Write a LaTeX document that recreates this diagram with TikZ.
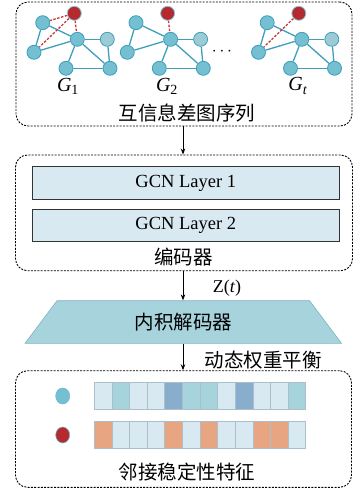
\documentclass[tikz,border=0pt]{standalone}
\usepackage{fontspec}
\setmainfont{Liberation Serif}
\newfontfamily\cjk{Noto Sans CJK SC}
\usetikzlibrary{shapes.geometric,arrows.meta,backgrounds}
\definecolor{nodeblue}{HTML}{74BFD2}
\definecolor{nodeedge}{HTML}{3D9FB8}
\definecolor{nodelight}{HTML}{9CCBD6}
\definecolor{nodered}{HTML}{B52A2E}
\definecolor{edgeblue}{HTML}{3F9FB9}
\definecolor{dashred}{HTML}{C8393A}
\definecolor{layerfill}{HTML}{D9E9F2}
\definecolor{trapfill}{HTML}{A7D3DD}
\definecolor{trapedge}{HTML}{7FB3C2}
\definecolor{cL}{HTML}{D9E9F1}
\definecolor{cM}{HTML}{A6D3DC}
\definecolor{cD}{HTML}{88ADCD}
\definecolor{cO}{HTML}{E8A582}
\definecolor{cellborder}{HTML}{A9BFCC}
\begin{document}
\begin{tikzpicture}[x=1pt,y=-1pt,
  gnode/.style={circle, minimum size=14pt, inner sep=0pt, fill=nodeblue, draw=nodeedge, line width=0.8pt},
  lnode/.style={gnode, fill=nodelight},
  rnode/.style={gnode, fill=nodered, draw=nodeedge!60!white},
  gedge/.style={draw=edgeblue, line width=1.3pt},
  redge/.style={draw=dashred, line width=1.3pt, dash pattern=on 2.5pt off 1.5pt},
  dbox/.style={draw, rounded corners=12pt, line width=0.9pt, dash pattern=on 2pt off 1.3pt, inner sep=0pt},
  layerbox/.style={draw=black!80, fill=layerfill, line width=0.8pt, minimum width=307pt, minimum height=32.5pt, inner sep=0pt, font=\fontsize{18.5}{20}\selectfont},
  cell/.style={draw=cellborder, line width=0.6pt, minimum width=17.62pt, minimum height=26.6pt, inner sep=0pt},
  arr/.style={-{Stealth[length=6pt,width=4.5pt]}, line width=0.9pt},
  cjktext/.style={font=\cjk\fontsize{19.5}{21}\selectfont, inner sep=0pt},
  glabel/.style={font=\fontsize{20}{22}\selectfont, inner sep=0pt}
]
\useasboundingbox (0,0) rectangle (354,490);

% boxes
\node[dbox, minimum width=336pt, minimum height=124pt] (box1) at (184,64) {};
\node[dbox, minimum width=337pt, minimum height=115.7pt] (box2) at (184,212.85) {};
\node[dbox, minimum width=336pt, minimum height=116.6pt] (box3) at (183.5,429) {};

% graphs
\foreach \g/\dx in {1/0,2/93.3,t/224.5}{
  \node[rnode] (g\g r) at (74.3+\dx,13.3) {};
  \node[gnode] (g\g A) at (42.7+\dx,22.7) {};
  \node[gnode] (g\g B) at (34+\dx,52.3) {};
  \node[gnode] (g\g C) at (77.3+\dx,39.3) {};
  \node[lnode] (g\g D) at (107.3+\dx,39.3) {};
  \node[gnode] (g\g E) at (66+\dx,68.3) {};
  \node[gnode] (g\g F) at (110+\dx,68.3) {};
}
\begin{scope}[on background layer]
\foreach \g in {1,2,t}{
  \draw[gedge] (g\g A) -- (g\g B);
  \draw[gedge] (g\g A) -- (g\g C);
  \draw[gedge] (g\g B) -- (g\g C);
  \draw[gedge] (g\g C) -- (g\g D);
  \draw[gedge] (g\g C) -- (g\g E);
  \draw[gedge] (g\g C) -- (g\g F);
  \draw[gedge] (g\g D) -- (g\g F);
  \draw[gedge] (g\g E) -- (g\g F);
}
\draw[redge] (g1r) -- (g1A);
\draw[redge] (g1r) -- (g1B);
\draw[redge] (g1r) -- (g1C);
\draw[redge] (g2r) -- (g2C);
\draw[redge] (gtr) -- (gtB);
\end{scope}

\node[glabel] (lg1) at (68,86) {\textit{G}\textsubscript{1}};
\node[glabel] (lg2) at (167,86) {\textit{G}\textsubscript{2}};
\node[glabel] (lgt) at (298,86) {\textit{G}\textsubscript{\textit{t}}};
\node[font=\fontsize{18}{20}\selectfont, inner sep=0pt] (dots) at (222,52) {$\cdots$};
\node[cjktext] (t1) at (187,113) {互信息差图序列};

% encoder
\node[layerbox] (l1) at (185.8,183) {GCN Layer 1};
\node[layerbox] (l2) at (185.8,225.5) {GCN Layer 2};
\node[cjktext] (t2) at (183.5,257.5) {编码器};

% decoder
\node[trapezium, trapezium stretches=true, trapezium angle=55.6, minimum width=316.7pt, minimum height=42.6pt, inner sep=0pt, fill=trapfill, draw=trapedge, line width=0.6pt, font=\cjk\fontsize{19.5}{21}\selectfont] (dec) at (183.3,322) {内积解码器};

% arrows
\draw[arr] (box1.south -| 183,0) -- (box2.north -| 183,0);
\draw[arr] (box2.south -| 183,0) -- (dec.north -| 183,0);
\draw[arr] (dec.south -| 183,0) -- (box3.north -| 183,0);
\node[font=\fontsize{18}{20}\selectfont, inner sep=0pt] (zt) at (227,288) {Z(\textit{t})};
\node[cjktext] (t3) at (263,360) {动态权重平衡};

% features
\node[ellipse, minimum width=14pt, minimum height=16pt, inner sep=0pt, fill=nodeblue, draw=nodeedge!70!white, line width=0.6pt] (cb) at (62.7,396) {};
\node[ellipse, minimum width=14pt, minimum height=16pt, inner sep=0pt, fill=nodered, draw=nodeedge!70!white, line width=0.6pt] (cr) at (62.7,435) {};
\foreach \c [count=\i] in {L,M,L,L,D,M,M,L,D,L,L,M}
  \node[cell, fill=c\c] (ra\i) at (94.3+17.62*\i-8.81,395.7) {};
\foreach \c [count=\i] in {O,L,L,L,O,L,O,L,L,O,O,L}
  \node[cell, fill=c\c] (rb\i) at (94.3+17.62*\i-8.81,435) {};
\node[cjktext] (t4) at (187,472.5) {邻接稳定性特征};
\end{tikzpicture}
\end{document}
